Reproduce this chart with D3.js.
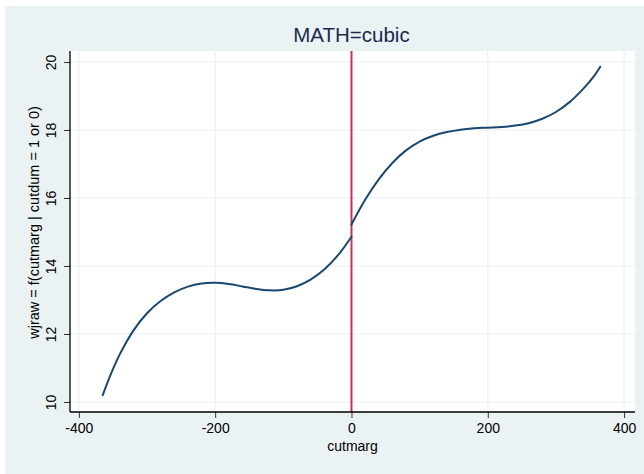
<!DOCTYPE html>
<html>
<head>
<meta charset="utf-8">
<script src="https://cdn.jsdelivr.net/npm/d3@7"></script>
<style>
  body { margin: 0; background: #ffffff; }
  svg { display: block; font-family: "Liberation Sans", Arial, sans-serif; }
</style>
</head>
<body>
<svg id="chart" width="644" height="474"></svg>
<script>
// Labels and ticks
const panelTitle = "MATH=cubic";
const xTitle = "cutmarg";
const yTitle = "wjraw = f(cutmarg | cutdum = 1 or 0)";
const xTicks = [-400, -200, 0, 200, 400];
const yTicks = [10, 12, 14, 16, 18, 20];
const cutoff = 0;

// Fitted values below the cutoff (cutdum = 0)
const leftX = [-365, -352, -340, -320, -300, -280, -260, -240, -220, -200, -180, -160, -140, -120, -100, -80, -60, -40, -20, 0];
const leftY = [10.20, 10.87, 11.40, 12.10, 12.61, 12.97, 13.225, 13.395, 13.485, 13.505, 13.47, 13.40, 13.327, 13.285, 13.30, 13.405, 13.60, 13.895, 14.31, 14.86];

// Fitted values above the cutoff (cutdum = 1)
const rightX = [0, 20, 40, 60, 80, 100, 120, 140, 160, 180, 200, 220, 240, 260, 280, 300, 320, 340, 355, 365];
const rightY = [15.22, 15.95, 16.55, 17.03, 17.40, 17.66, 17.83, 17.94, 18.01, 18.05, 18.07, 18.09, 18.13, 18.20, 18.33, 18.53, 18.82, 19.21, 19.56, 19.86];

const W = 644, H = 474;
const plot = { left: 70, right: 635, top: 51, bottom: 412 };

const svg = d3.select("#chart");

// Outer graph region
svg.append("rect")
  .attr("x", 5).attr("y", 6)
  .attr("width", W - 5).attr("height", H - 6)
  .attr("fill", "#EAF2F3");

// Plot region
svg.append("rect")
  .attr("x", plot.left).attr("y", plot.top)
  .attr("width", plot.right - plot.left).attr("height", plot.bottom - plot.top)
  .attr("fill", "#ffffff");

const x = d3.scaleLinear().domain([-413, 416]).range([plot.left, plot.right]);
const y = d3.scaleLinear().domain([9.706, 20.324]).range([plot.bottom, plot.top]);

// Grid lines
const grid = svg.append("g").attr("stroke", "#EAF2F3").attr("stroke-width", 1.2);
grid.selectAll("line.gy").data(yTicks).join("line")
  .attr("class", "gy")
  .attr("x1", plot.left).attr("x2", plot.right)
  .attr("y1", d => y(d)).attr("y2", d => y(d));
grid.selectAll("line.gx").data(xTicks).join("line")
  .attr("class", "gx")
  .attr("x1", d => x(d)).attr("x2", d => x(d))
  .attr("y1", plot.top).attr("y2", plot.bottom);

// Vertical reference line at the cutoff
svg.append("line")
  .attr("x1", x(cutoff)).attr("x2", x(cutoff))
  .attr("y1", plot.top).attr("y2", plot.bottom)
  .attr("stroke", "#CE2F58").attr("stroke-width", 2);

// Fitted curves
const line = d3.line()
  .x(d => x(d[0]))
  .y(d => y(d[1]))
  .curve(d3.curveCatmullRom.alpha(0.5));

const segments = [
  d3.zip(leftX, leftY),
  d3.zip(rightX, rightY)
];
svg.append("g").selectAll("path").data(segments).join("path")
  .attr("d", line)
  .attr("fill", "none")
  .attr("stroke", "#1A476F")
  .attr("stroke-width", 2)
  .attr("stroke-linejoin", "round")
  .attr("stroke-linecap", "round");

// Plain hyphen for negative tick labels
const plainNum = d => String(d);

// X axis
const xAxis = svg.append("g")
  .attr("transform", `translate(0,${plot.bottom})`)
  .call(d3.axisBottom(x).tickValues(xTicks).tickSize(6).tickPadding(5).tickFormat(plainNum));
xAxis.select(".domain").remove();
xAxis.selectAll(".tick line").attr("stroke", "#333");
xAxis.selectAll(".tick text")
  .attr("font-size", 14).attr("fill", "#000")
  .attr("font-family", "Liberation Sans, Arial, sans-serif");
svg.append("line")
  .attr("x1", plot.left).attr("x2", plot.right)
  .attr("y1", plot.bottom).attr("y2", plot.bottom)
  .attr("stroke", "#000").attr("stroke-width", 1.3);

// Y axis with rotated tick labels
const yAxis = svg.append("g")
  .attr("transform", `translate(${plot.left},0)`)
  .call(d3.axisLeft(y).tickValues(yTicks).tickSize(6).tickFormat(plainNum));
yAxis.select(".domain").remove();
yAxis.selectAll(".tick line").attr("stroke", "#333");
yAxis.selectAll(".tick text")
  .attr("transform", "rotate(-90)")
  .attr("x", 0).attr("y", -19).attr("dy", "0.35em")
  .attr("text-anchor", "middle")
  .attr("font-size", 14).attr("fill", "#000")
  .attr("font-family", "Liberation Sans, Arial, sans-serif");
svg.append("line")
  .attr("x1", plot.left).attr("x2", plot.left)
  .attr("y1", plot.top).attr("y2", plot.bottom)
  .attr("stroke", "#000").attr("stroke-width", 1.3);

// Axis titles
svg.append("text")
  .attr("x", (plot.left + plot.right) / 2).attr("y", 451)
  .attr("text-anchor", "middle")
  .attr("font-size", 14).attr("fill", "#000")
  .text(xTitle);

svg.append("text")
  .attr("transform", `translate(34,${(plot.top + plot.bottom) / 2 - 9}) rotate(-90)`)
  .attr("text-anchor", "middle").attr("dy", "0.35em")
  .attr("font-size", 14.5).attr("fill", "#000")
  .text(yTitle);

// Panel title
svg.append("text")
  .attr("x", x(cutoff)).attr("y", 42)
  .attr("text-anchor", "middle")
  .attr("font-size", 20.5).attr("fill", "#1C2A4F")
  .text(panelTitle);
</script>
</body>
</html>
